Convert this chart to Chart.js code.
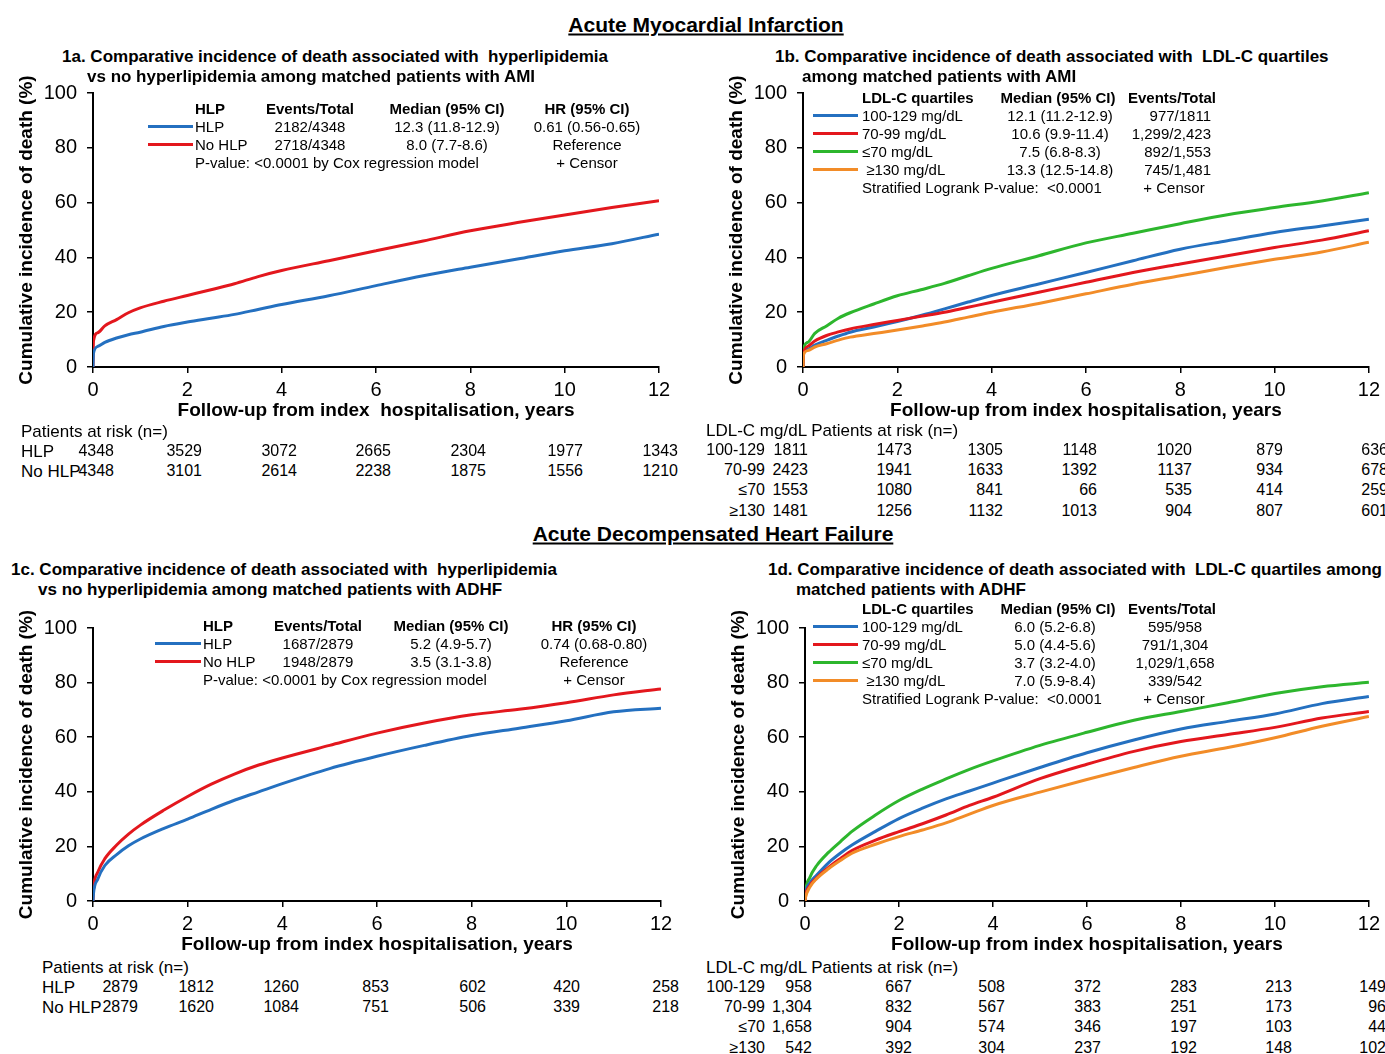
<!DOCTYPE html>
<html>
<head>
<meta charset="utf-8">
<script src="https://cdn.jsdelivr.net/npm/chart.js@4.4.1/dist/chart.umd.min.js"></script>
<style>
html, body { margin: 0; padding: 0; overflow: hidden; }
body { width: 1385px; height: 1054px; position: relative; background: #fff; color: #000;
       font-family: "Liberation Sans", Arial, sans-serif; }
.lbl { position: absolute; white-space: pre; line-height: 1; font-size: 15px; }
.b { font-weight: bold; }
.main { font-size: 21px; font-weight: bold; text-decoration: underline; }
.ptitle { font-size: 17px; font-weight: bold; }
.risk { font-size: 16px; }
.rlab { font-size: 17px; }
.seg { position: absolute; height: 3px; }
canvas { position: absolute; }
</style>
</head>
<body>
<canvas id="c1a" width="690" height="351" style="left:0px;top:71px"></canvas>
<canvas id="c1b" width="675" height="351" style="left:710px;top:71px"></canvas>
<canvas id="c1c" width="690" height="350" style="left:0px;top:606px"></canvas>
<canvas id="c1d" width="673" height="350" style="left:712px;top:606px"></canvas>
<script>
// follow-up times (years) shared by all curves
const years = [0, 0.01, 0.1, 0.25, 0.5, 0.75, 1, 1.5, 2, 2.5, 3, 3.5, 4, 5, 6, 7, 8, 9, 10, 11, 12];

// 1a - AMI, HLP vs no HLP (cumulative incidence %)
const amiHlp   = [0, 5, 7.5, 9, 10.6, 11.8, 12.7, 14.8, 16.4, 17.8, 19.2, 21, 22.8, 26, 29.7, 33.3, 36.4, 39.4, 42.4, 45, 48.5];
const amiNoHlp = [0, 9.5, 12.5, 15, 17.3, 19.8, 21.6, 24, 26.1, 28.2, 30.4, 33, 35.2, 38.8, 42.4, 46, 49.7, 52.7, 55.5, 58.2, 60.7];

// 1b - AMI, LDL-C quartiles
const amiLdl100 = [0, 5, 6.5, 8, 9.7, 11.3, 12.7, 14.6, 16.6, 18.8, 21.2, 23.7, 26.1, 30.3, 34.5, 38.8, 43, 46.1, 49.1, 51.5, 53.9];
const amiLdl70  = [0, 5, 7.5, 9.5, 11.5, 12.8, 13.9, 15.5, 17, 18.5, 20, 21.8, 23.6, 27.3, 30.9, 34.5, 37.6, 40.6, 43.6, 46.3, 49.7];
const amiLdlLow = [0, 6.5, 9, 12.3, 15, 17.8, 19.8, 23, 26, 28.2, 30.5, 33.3, 36, 40.6, 45.3, 48.8, 52.3, 55.6, 58.2, 60.6, 63.6];
const amiLdl130 = [0, 4.5, 6, 7.3, 8.5, 9.8, 10.9, 12.2, 13.5, 14.9, 16.4, 18.2, 20, 23.2, 26.7, 30.2, 33.3, 36.4, 39.3, 42, 45.5];

// 1c - ADHF, HLP vs no HLP
const hfHlp   = [0, 2.7, 8, 13, 17, 20.2, 22.7, 26.6, 30, 33.6, 37, 40, 43, 48.5, 53, 57, 60.6, 63.3, 66, 69.3, 70.6];
const hfNoHlp = [0, 4, 10.5, 15.5, 20.5, 24.5, 27.8, 33.3, 38.3, 42.8, 46.6, 49.8, 52.4, 57, 61.5, 65.2, 68.2, 70.2, 72.6, 75.5, 77.7];

// 1d - ADHF, LDL-C quartiles
const hfLdl100 = [0, 2.4, 6.5, 9.5, 14, 17.5, 20.5, 25.5, 30.2, 34, 37.4, 40.3, 43.2, 48.9, 54.3, 59, 63, 65.8, 68.5, 72.3, 74.9];
const hfLdl70  = [0, 1.8, 5.5, 8.5, 12.3, 15.5, 18.5, 22.3, 25.4, 28.3, 31.5, 35, 38, 44.8, 50.1, 54.8, 58.4, 61, 63.6, 67, 69.4];
const hfLdlLow = [0, 3, 8.5, 13, 17.8, 21.7, 25.5, 31.5, 36.8, 41, 44.7, 48.2, 51.3, 57, 61.8, 66.2, 69.4, 72.6, 76, 78.5, 80.1];
const hfLdl130 = [0, 1.2, 5, 8.2, 11.8, 14.8, 17.5, 20.8, 23.6, 26, 28.6, 31.8, 35, 39.9, 44.5, 48.9, 53, 56.2, 59.8, 64, 67.6];

// legend tables
const hlpGroups = ['HLP', 'No HLP'];
const amiHlpEvents = ['2182/4348', '2718/4348'];
const amiHlpMedian = ['12.3 (11.8-12.9)', '8.0 (7.7-8.6)'];
const amiHlpHR = ['0.61 (0.56-0.65)', 'Reference'];
const hfHlpEvents = ['1687/2879', '1948/2879'];
const hfHlpMedian = ['5.2 (4.9-5.7)', '3.5 (3.1-3.8)'];
const hfHlpHR = ['0.74 (0.68-0.80)', 'Reference'];

const ldlGroups = ['100-129 mg/dL', '70-99 mg/dL', '\u226470 mg/dL', ' \u2265130 mg/dL'];
const amiLdlMedian = ['12.1 (11.2-12.9)', '10.6 (9.9-11.4)', '7.5 (6.8-8.3)', '13.3 (12.5-14.8)'];
const amiLdlEvents = ['977/1811', '1,299/2,423', '892/1,553', '745/1,481'];
const hfLdlMedian = ['6.0 (5.2-6.8)', '5.0 (4.4-5.6)', '3.7 (3.2-4.0)', '7.0 (5.9-8.4)'];
const hfLdlEvents = ['595/958', '791/1,304', '1,029/1,658', '339/542'];

// patients at risk at 0,2,4,...,12 years
const riskLabelsLdl = ['100-129', '70-99', '\u226470', '\u2265130'];
const amiRiskHlp = [['4348', '3529', '3072', '2665', '2304', '1977', '1343'],
                    ['4348', '3101', '2614', '2238', '1875', '1556', '1210']];
const amiRiskLdl = [['1811', '1473', '1305', '1148', '1020', '879', '636'],
                    ['2423', '1941', '1633', '1392', '1137', '934', '678'],
                    ['1553', '1080', '841', '66', '535', '414', '259'],
                    ['1481', '1256', '1132', '1013', '904', '807', '601']];
const hfRiskHlp = [['2879', '1812', '1260', '853', '602', '420', '258'],
                   ['2879', '1620', '1084', '751', '506', '339', '218']];
const hfRiskLdl = [['958', '667', '508', '372', '283', '213', '149'],
                   ['1,304', '832', '567', '383', '251', '173', '96'],
                   ['1,658', '904', '574', '346', '197', '103', '44'],
                   ['542', '392', '304', '237', '192', '148', '102']];

const BLUE = '#2470c0', RED = '#e3171d', GREEN = '#2db62d', ORANGE = '#f28c28';
const FONT = '"Liberation Sans", Arial, sans-serif';

function kmChart(id, series, padRight, xTitle) {
    return new Chart(document.getElementById(id), {
        type: 'line',
        data: {
            datasets: series.map(s => ({
                data: years.map((t, i) => ({ x: t, y: s[0][i] })),
                borderColor: s[1],
                borderWidth: 3,
                pointRadius: 0,
                cubicInterpolationMode: 'monotone',
                fill: false
            }))
        },
        options: {
            responsive: false,
            animation: false,
            layout: { padding: { top: 0, right: padRight, left: 0, bottom: 0 } },
            plugins: { legend: { display: false }, tooltip: { enabled: false } },
            scales: {
                x: {
                    type: 'linear', min: 0, max: 12,
                    ticks: { stepSize: 2, color: '#000', padding: 5, maxRotation: 0, font: { family: FONT, size: 20 } },
                    grid: { drawOnChartArea: false, color: '#000', tickLength: 6, lineWidth: 1.5 },
                    border: { color: '#000', width: 2 },
                    title: { display: true, text: xTitle, color: '#000', padding: 0,
                             font: { family: FONT, size: 19, weight: 'bold' } },
                    afterFit(s) { s.height = 55; }
                },
                y: {
                    min: 0, max: 100,
                    ticks: { stepSize: 20, color: '#000', padding: 10, font: { family: FONT, size: 20 } },
                    grid: { drawOnChartArea: false, color: '#000', tickLength: 6, lineWidth: 1.5 },
                    border: { color: '#000', width: 2 },
                    title: { display: true, text: 'Cumulative incidence of death (%)', color: '#000',
                             padding: { top: 15, bottom: 0 }, font: { family: FONT, size: 19, weight: 'bold' } },
                    afterFit(s) { s.width = 93; }
                }
            }
        }
    });
}

kmChart('c1a', [[amiHlp, BLUE], [amiNoHlp, RED]], 31, 'Follow-up from index  hospitalisation, years');
kmChart('c1b', [[amiLdl130, ORANGE], [amiLdl70, RED], [amiLdl100, BLUE], [amiLdlLow, GREEN]], 16, 'Follow-up from index hospitalisation, years');
kmChart('c1c', [[hfHlp, BLUE], [hfNoHlp, RED]], 29, 'Follow-up from index hospitalisation, years');
kmChart('c1d', [[hfLdl130, ORANGE], [hfLdl70, RED], [hfLdl100, BLUE], [hfLdlLow, GREEN]], 13, 'Follow-up from index hospitalisation, years');

// text helpers
function put(x, y, text, align, cls) {
    const d = document.createElement('div');
    d.className = 'lbl ' + (cls || '');
    d.textContent = text;
    d.style.left = x + 'px';
    d.style.top = y + 'px';
    const dx = align === 'c' ? -50 : align === 'r' ? -100 : 0;
    d.style.transform = 'translate(' + dx + '%, -50%)';
    document.body.appendChild(d);
}
function seg(x1, x2, y, color) {
    const d = document.createElement('div');
    d.className = 'seg';
    d.style.left = x1 + 'px';
    d.style.width = (x2 - x1) + 'px';
    d.style.top = (y - 1.5) + 'px';
    d.style.background = color;
    document.body.appendChild(d);
}

// headings
put(706, 24, 'Acute Myocardial Infarction', 'c', 'main');
put(713, 533, 'Acute Decompensated Heart Failure', 'c', 'main');
put(62, 56, '1a. Comparative incidence of death associated with  hyperlipidemia', 'l', 'ptitle');
put(87, 76, 'vs no hyperlipidemia among matched patients with AMI', 'l', 'ptitle');
put(775, 56, '1b. Comparative incidence of death associated with  LDL-C quartiles', 'l', 'ptitle');
put(802, 76, 'among matched patients with AMI', 'l', 'ptitle');
put(11, 569, '1c. Comparative incidence of death associated with  hyperlipidemia', 'l', 'ptitle');
put(38, 589, 'vs no hyperlipidemia among matched patients with ADHF', 'l', 'ptitle');
put(768, 569, '1d. Comparative incidence of death associated with  LDL-C quartiles among', 'l', 'ptitle');
put(796, 589, 'matched patients with ADHF', 'l', 'ptitle');

// HLP legends (1a, 1c)
function hlpLegend(y0, lineX, textX, evX, medX, hrX, events, medians, hrs) {
    put(textX, y0, 'HLP', 'l', 'b');
    put(evX, y0, 'Events/Total', 'c', 'b');
    put(medX, y0, 'Median (95% CI)', 'c', 'b');
    put(hrX, y0, 'HR (95% CI)', 'c', 'b');
    [BLUE, RED].forEach((c, i) => {
        const y = y0 + 18 * (i + 1);
        seg(lineX, textX - 2, y, c);
        put(textX, y, hlpGroups[i]);
        put(evX, y, events[i], 'c');
        put(medX, y, medians[i], 'c');
        put(hrX, y, hrs[i], 'c');
    });
    put(textX, y0 + 54, 'P-value: <0.0001 by Cox regression model');
    put(hrX, y0 + 54, '+ Censor', 'c');
}
hlpLegend(108, 148, 195, 310, 447, 587, amiHlpEvents, amiHlpMedian, amiHlpHR);
hlpLegend(625, 155, 203, 318, 451, 594, hfHlpEvents, hfHlpMedian, hfHlpHR);

// LDL legends (1b, 1d)
function ldlLegend(y0, medX, evX, evAlign, medians, events) {
    put(862, y0, 'LDL-C quartiles', 'l', 'b');
    put(1058, y0, 'Median (95% CI)', 'c', 'b');
    put(1172, y0, 'Events/Total', 'c', 'b');
    [BLUE, RED, GREEN, ORANGE].forEach((c, i) => {
        const y = y0 + 18 * (i + 1);
        seg(813, 858, y, c);
        put(862, y, ldlGroups[i]);
        put(medX, y, medians[i], 'c');
        put(evX, y, events[i], evAlign);
    });
    put(862, y0 + 90, 'Stratified Logrank P-value:  <0.0001');
    put(1174, y0 + 90, '+ Censor', 'c');
}
ldlLegend(97, 1060, 1211, 'r', amiLdlMedian, amiLdlEvents);
ldlLegend(608, 1055, 1175, 'c', hfLdlMedian, hfLdlEvents);

// patients at risk tables
function hlpRisk(x, y0, rights, rows) {
    put(x, y0, 'Patients at risk (n=)', 'l', 'rlab');
    rows.forEach((r, i) => {
        const y = y0 + 20 * (i + 1);
        put(x, y, hlpGroups[i], 'l', 'rlab');
        r.forEach((v, j) => put(rights[j], y, v, 'r', 'risk'));
    });
}
hlpRisk(21, 431, [114, 202, 297, 391, 486, 583, 678], amiRiskHlp);
hlpRisk(42, 967, [138, 214, 299, 389, 486, 580, 679], hfRiskHlp);

function ldlRisk(y0, rights, rows) {
    put(706, y0, 'LDL-C mg/dL Patients at risk (n=)', 'l', 'rlab');
    rows.forEach((r, i) => {
        const y = y0 + 20 * (i + 1) + (i === 3 ? 1 : 0);
        put(765, y, riskLabelsLdl[i], 'r', 'risk');
        r.forEach((v, j) => put(rights[j], y, v, 'r', 'risk'));
    });
}
ldlRisk(430, [808, 912, 1003, 1097, 1192, 1283, 1388], amiRiskLdl);
ldlRisk(967, [812, 912, 1005, 1101, 1197, 1292, 1386], hfRiskLdl);
</script>
</body>
</html>
